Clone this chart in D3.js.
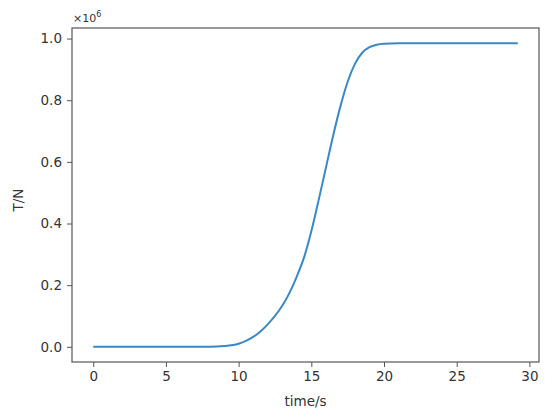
<!DOCTYPE html>
<html>
<head>
<meta charset="utf-8">
<script src="https://cdn.jsdelivr.net/npm/d3@7"></script>
<style>
    body { margin: 0; background: #fff; }
    svg text { font-family: "DejaVu Sans", sans-serif; fill: #333; }
</style>
</head>
<body>
<script>
"use strict";
// time in s, tension in N
const times = [0, 2, 4, 6, 8, 9, 10, 10.5, 11, 11.5, 12, 12.5, 13, 13.5, 14, 14.5, 15, 15.5, 16, 16.5, 17, 17.5, 18, 18.5, 19, 19.5, 20, 21, 23, 26, 29.2];
const tension = [0, 0, 0, 0, 300, 2500, 10000, 19000, 32000, 50000, 73000, 100000, 133000, 175000, 228000, 290000, 375000, 475000, 580000, 685000, 780000, 860000, 918000, 954000, 972000, 980000, 983000, 984500, 985000, 985000, 985000];
const xTicks = [0, 5, 10, 15, 20, 25, 30];
const yTicks = [0, 200000, 400000, 600000, 800000, 1000000];

(function(){
    const measurements = {
        width: 550,
        height: 416,
        left: 72,
        right: 539,
        top: 28,
        bottom: 362
    }

    const svg = d3.select('body').append('svg')
        .attr('width', measurements.width)
        .attr('height', measurements.height);

    const data = times.map((t, i) => ({ t: t, v: tension[i] }));

    const xMin = d3.min(times), xMax = d3.max(times);
    const yMin = d3.min(tension), yMax = d3.max(tension);
    const xPad = (xMax - xMin) * 0.05, yPad = (yMax - yMin) * 0.05;

    const scaleX = d3.scaleLinear()
        .domain([xMin - xPad, xMax + xPad])
        .range([measurements.left, measurements.right]);

    const scaleY = d3.scaleLinear()
        .domain([yMin - yPad, yMax + yPad])
        .range([measurements.bottom, measurements.top]);

    const xAxis = d3.axisBottom(scaleX)
        .tickValues(xTicks)
        .tickFormat(d3.format('d'))
        .tickSizeInner(5)
        .tickSizeOuter(0)
        .tickPadding(4);

    const yAxis = d3.axisLeft(scaleY)
        .tickValues(yTicks)
        .tickFormat((d) => (d / 1e6).toFixed(1))
        .tickSizeInner(5)
        .tickSizeOuter(0)
        .tickPadding(5);

    const gx = svg.append('g')
        .attr('transform', 'translate(0,' + measurements.bottom + ')')
        .call(xAxis);
    const gy = svg.append('g')
        .attr('transform', 'translate(' + measurements.left + ',0)')
        .call(yAxis);

    [gx, gy].forEach((g) => {
        g.select('.domain').remove();
        g.selectAll('line').attr('stroke', '#555').attr('stroke-width', 1);
        g.selectAll('text').style('font-size', '13.5px').attr('fill', '#333');
    });

    // frame
    svg.append('rect')
        .attr('x', measurements.left)
        .attr('y', measurements.top)
        .attr('width', measurements.right - measurements.left)
        .attr('height', measurements.bottom - measurements.top)
        .attr('fill', 'none')
        .attr('stroke', '#555')
        .attr('stroke-width', 1.2);

    const line = d3.line()
        .x((d) => scaleX(d.t))
        .y((d) => scaleY(d.v))
        .curve(d3.curveMonotoneX);

    svg.append('path')
        .datum(data)
        .attr('d', line)
        .attr('fill', 'none')
        .attr('stroke', '#3a88c5')
        .attr('stroke-width', 2);

    // labels
    svg.append('text')
        .attr('x', (measurements.left + measurements.right) / 2)
        .attr('y', 406)
        .attr('text-anchor', 'middle')
        .style('font-size', '13.5px')
        .text('time/s');

    svg.append('text')
        .attr('transform', 'translate(23, 200)rotate(-90)')
        .attr('text-anchor', 'middle')
        .style('font-size', '13.5px')
        .text('T/N');

    const offset = svg.append('text')
        .attr('x', measurements.left + 1)
        .attr('y', 22)
        .style('font-size', '11px');
    offset.append('tspan').text('×10');
    offset.append('tspan')
        .attr('dy', -5)
        .style('font-size', '8px')
        .text('6');
})()
</script>
</body>
</html>
